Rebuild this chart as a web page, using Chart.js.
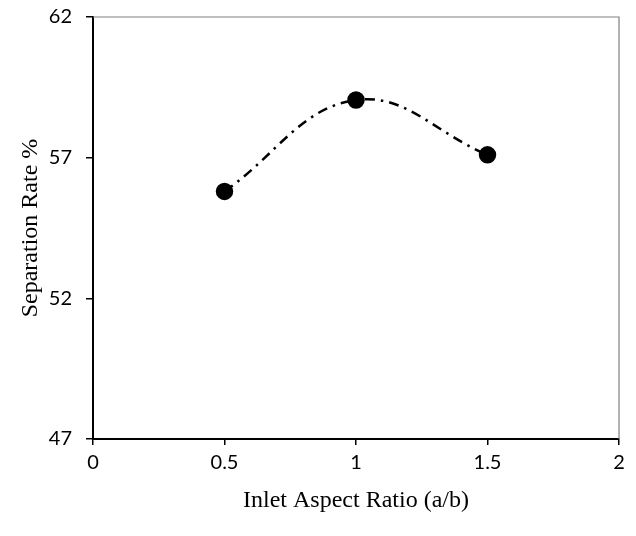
<!DOCTYPE html>
<html>
<head>
<meta charset="utf-8">
<script src="https://cdn.jsdelivr.net/npm/chart.js@4/dist/chart.umd.min.js"></script>
<style>
  html, body { margin: 0; padding: 0; background: #fff; }
  #wrap { width: 636px; height: 536px; }
</style>
</head>
<body>
<div id="wrap"><canvas id="plot1" width="636" height="536"></canvas></div>
<script>
// datos
let aspectRatio = [0.5, 1, 1.5];
let separationRate = [55.8, 59.05, 57.1];
let yTicks = [47, 52, 57, 62];
let xTicks = [0, 0.5, 1, 1.5, 2];

let puntos = aspectRatio.map((x, i) => ({ x: x, y: separationRate[i] }));

// marco gris arriba y a la derecha
let marcoPlugin = {
  id: "marco",
  afterDraw: (chart) => {
    let { ctx, chartArea } = chart;
    ctx.save();
    ctx.strokeStyle = "#808080";
    ctx.lineWidth = 1.2;
    ctx.beginPath();
    ctx.moveTo(chartArea.left, chartArea.top);
    ctx.lineTo(chartArea.right, chartArea.top);
    ctx.lineTo(chartArea.right, chartArea.bottom);
    ctx.stroke();
    ctx.restore();
  },
};

let tickFont = { family: "Lato, 'Open Sans', sans-serif", size: 20 };
let titleFont = { family: "'Liberation Serif', 'DejaVu Serif', serif", size: 24 };

let config = {
  type: "scatter",
  data: {
    datasets: [
      {
        label: "Separation Rate",
        data: puntos,
        showLine: true,
        tension: 0.4,
        borderColor: "#000",
        borderWidth: 2.5,
        borderDash: [10, 6, 2.5, 6],
        pointRadius: 7.5,
        pointHoverRadius: 7.5,
        pointBackgroundColor: "#000",
        pointBorderColor: "#000",
      },
    ],
  },
  options: {
    responsive: false,
    animation: false,
    layout: { padding: { top: 17, right: 17, left: 0, bottom: 0 } },
    plugins: { legend: { display: false }, tooltip: { enabled: false } },
    scales: {
      x: {
        type: "linear",
        min: 0,
        max: 2,
        afterBuildTicks: (axis) => {
          axis.ticks = xTicks.map((v) => ({ value: v }));
        },
        afterFit: (axis) => {
          axis.height = 97;
          axis.paddingLeft = 0;
          axis.paddingRight = 0;
        },
        grid: {
          drawOnChartArea: false,
          drawTicks: true,
          tickLength: 6,
          color: "#000",
          lineWidth: 1.5,
        },
        border: { color: "#000", width: 2 },
        ticks: {
          color: "#000",
          font: tickFont,
          padding: 6,
          maxRotation: 0,
          callback: (v) => String(v),
        },
        title: {
          display: true,
          text: "Inlet Aspect Ratio (a/b)",
          color: "#000",
          font: titleFont,
          padding: { top: 0, bottom: 21 },
        },
      },
      y: {
        type: "linear",
        min: 47,
        max: 62,
        afterBuildTicks: (axis) => {
          axis.ticks = yTicks.map((v) => ({ value: v }));
        },
        afterFit: (axis) => {
          axis.width = 93;
          axis.paddingTop = 0;
          axis.paddingBottom = 0;
        },
        grid: {
          drawOnChartArea: false,
          drawTicks: true,
          tickLength: 7,
          color: "#000",
          lineWidth: 1.5,
        },
        border: { color: "#000", width: 2 },
        ticks: {
          color: "#000",
          font: tickFont,
          padding: 14,
          callback: (v) => String(v),
        },
        title: {
          display: true,
          text: "Separation Rate %",
          color: "#000",
          font: titleFont,
          padding: { top: 16, bottom: 0 },
        },
      },
    },
  },
  plugins: [marcoPlugin],
};

let chart1 = new Chart(document.getElementById("plot1"), config);
</script>
</body>
</html>
